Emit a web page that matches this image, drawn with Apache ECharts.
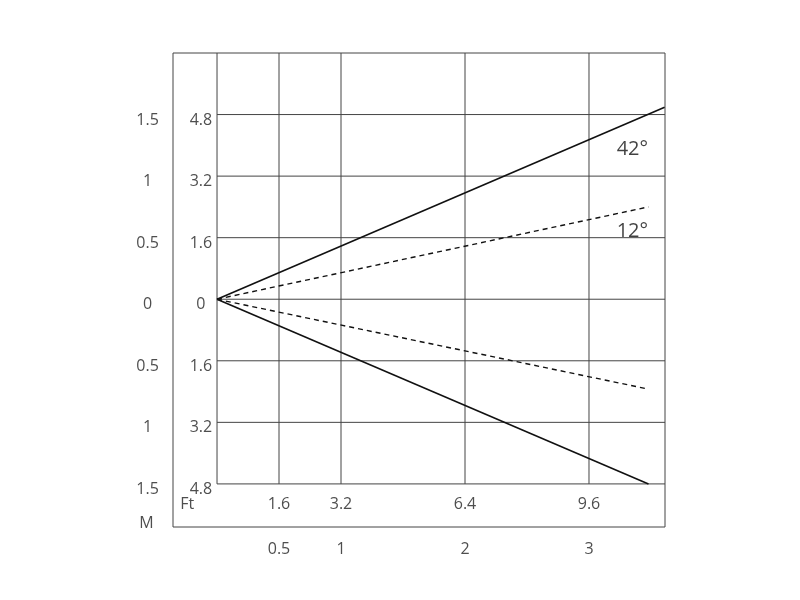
<!DOCTYPE html>
<html><head><meta charset="utf-8">
<script src="https://cdn.jsdelivr.net/npm/echarts@6/dist/echarts.min.js"></script>
<style>html,body{margin:0;background:#fff}#c{width:800px;height:600px}</style>
</head><body><div id="c"></div>
<script>
// metres on both axes, origin at the lamp
var xGrid = [0, 0.5, 1, 2, 3];
var yGrid = [1.5, 1, 0.5, 0, -0.5, -1, -1.5];
var mLeftLabels = ['1.5', '1', '0.5', '0', '0.5', '1', '1.5'];
var ftLeftLabels = ['4.8', '3.2', '1.6', '0', '1.6', '3.2', '4.8'];
var xMetreTicks = [0.5, 1, 2, 3];
var xMetreLabels = ['0.5', '1', '2', '3'];
var xFtLabels = ['1.6', '3.2', '6.4', '9.6'];
var beam42 = [[0, 0], [3.61, 1.56]];
var beam42Low = [[0, 0], [3.48, -1.5]];
var beam12 = [[0, 0], [3.48, 0.75]];
var beam12Low = [[0, 0], [3.48, -0.73]];

var XMIN = -0.355, XMAX = 3.613, YMIN = -1.85, YMAX = 2.0;
var gridCol = '#444';
var series = [];
function seg(a, b, color, type, w) {
  series.push({type: 'line', data: [a, b], symbol: 'none', silent: true,
    lineStyle: {color: color, width: w, type: type}, z: type ? 3 : 2});
}
xGrid.forEach(function (x) { seg([x, -1.5], [x, YMAX], gridCol, 'solid', 1); });
yGrid.forEach(function (y) { seg([0, y], [XMAX, y], gridCol, 'solid', 1); });
[beam42, beam42Low].forEach(function (d) {
  series.push({type: 'line', data: d, symbol: 'none', lineStyle: {color: '#111', width: 1.6}, z: 5});
});
[beam12, beam12Low].forEach(function (d) {
  series.push({type: 'line', data: d, symbol: 'none', lineStyle: {color: '#111', width: 1.4, type: [5, 4]}, z: 5});
});
function labels(pts, size, color) {
  series.push({type: 'scatter', symbolSize: 0, clip: false, silent: true, z: 6,
    data: pts.map(function (p) { return {value: [p[0], p[1]], label: {show: true, formatter: p[2]}}; }),
    label: {position: 'inside', fontSize: size, color: color, fontFamily: 'Open Sans'}});
}
var txt = [];
yGrid.forEach(function (y, i) {
  txt.push([-0.56, y - 0.045, mLeftLabels[i]]);
  txt.push([-0.13, y - 0.045, ftLeftLabels[i]]);
});
xMetreTicks.forEach(function (x, i) {
  txt.push([x, -1.67, xFtLabels[i]]);
  txt.push([x, -2.03, xMetreLabels[i]]);
});
txt.push([-0.24, -1.67, 'Ft']);
txt.push([-0.57, -1.82, 'M']);
labels(txt, 16, '#222');
labels([[3.35, 1.22, '42°'], [3.35, 0.55, '12°']], 20, '#111');

var chart = echarts.init(document.getElementById('c'));
chart.setOption({
  animation: false,
  grid: {left: 173, right: 135, top: 53, bottom: 73, show: true, borderColor: gridCol, borderWidth: 1},
  xAxis: {type: 'value', min: XMIN, max: XMAX, show: false},
  yAxis: {type: 'value', min: YMIN, max: YMAX, show: false},
  series: series
});
</script></body></html>
